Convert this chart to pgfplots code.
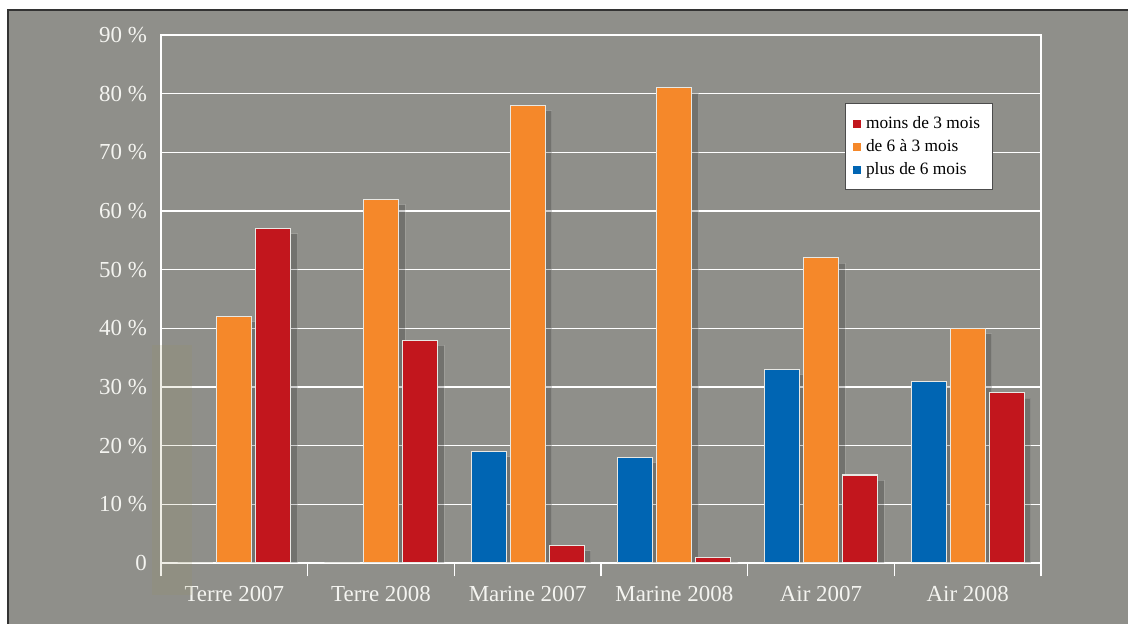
\documentclass[border=0pt]{standalone}
\usepackage{fontspec}
\setmainfont{Liberation Serif}
\usepackage{pgfplots}
\pgfplotsset{compat=1.18}
\usetikzlibrary{shadows}
\definecolor{bg}{HTML}{8F8F8A}
\definecolor{cblue}{HTML}{0065B3}
\definecolor{corange}{HTML}{F5882A}
\definecolor{cred}{HTML}{C2161D}
\definecolor{txt}{HTML}{F4F4F0}
\definecolor{barline}{HTML}{E8E8E4}
\begin{document}
\begin{tikzpicture}[x=0.75pt,y=0.75pt]
\useasboundingbox (0,0) rectangle (1128,624);
\fill[white] (0,0) rectangle (1128,624);
\fill[bg] (8,0) rectangle (1128,614);
\draw[black!80, line width=1.2pt] (8,0) -- (8,614) -- (1128,614);
\begin{axis}[
  at={(120.75pt,45.75pt)}, anchor=south west,
  scale only axis, width=660pt, height=396pt,
  ymin=0, ymax=90, xmin=-0.5, xmax=5.5,
  bar width=26.25pt,
  axis line style={white, line width=0.9pt},
  ymajorgrids, grid style={white, line width=0.9pt},
  ytick={0,10,...,90},
  yticklabels={0,10 \%,20 \%,30 \%,40 \%,50 \%,60 \%,70 \%,80 \%,90 \%},
  xtick={0,...,5},
  xticklabels={Terre 2007,Terre 2008,Marine 2007,Marine 2008,Air 2007,Air 2008},
  minor xtick={-0.5,0.5,1.5,2.5,3.5,4.5,5.5},
  xtick pos=bottom, ytick pos=left, tick align=outside,
  major tick length=0pt,
  minor tick length=10pt,
  minor tick style={white, line width=1.1pt},
  major tick style={draw=none},
  /pgf/number format/assume math mode=true,
  ticklabel style={font=\fontsize{17.2}{20}\selectfont, text=txt},
  yticklabel style={anchor=east, xshift=-7pt},
  xticklabel style={anchor=north, yshift=-14pt},
  legend image code/.code={\fill[#1] (0pt,-3pt) rectangle (6pt,3pt);},
  legend style={at={(0.777,0.871)}, anchor=north west, fill=white,
    draw=black!70, line width=0.9pt, text=black,
    font=\fontsize{13}{15}\selectfont,
    inner xsep=6pt, inner ysep=8pt, row sep=3.6pt,
    nodes={inner xsep=3.5pt, inner ysep=1.6pt}},
  legend cell align=left,
  shd/.style={draw=barline, line width=0.8pt,
    drop shadow={shadow xshift=5pt, shadow yshift=-4pt, opacity=0.2, fill=black}},
]
\addplot[ybar, bar shift=-29.25pt, fill=cblue, shd, forget plot] coordinates {(0,0) (1,0) (2,19) (3,18) (4,33) (5,31)};
\addplot[ybar, bar shift=0pt, fill=corange, shd, forget plot] coordinates {(0,42) (1,62) (2,78) (3,81) (4,52) (5,40)};
\addplot[ybar, bar shift=29.25pt, fill=cred, shd, forget plot] coordinates {(0,57) (1,38) (2,3) (3,1) (4,15) (5,29)};
\addlegendimage{fill=cred, draw=none}
\addlegendentry{moins de 3 mois}
\addlegendimage{fill=corange, draw=none}
\addlegendentry{de 6 à 3 mois}
\addlegendimage{fill=cblue, draw=none}
\addlegendentry{plus de 6 mois}
\end{axis}
\fill[olive!40!bg, opacity=0.15] (152,29) rectangle (192,279);
\end{tikzpicture}
\end{document}
